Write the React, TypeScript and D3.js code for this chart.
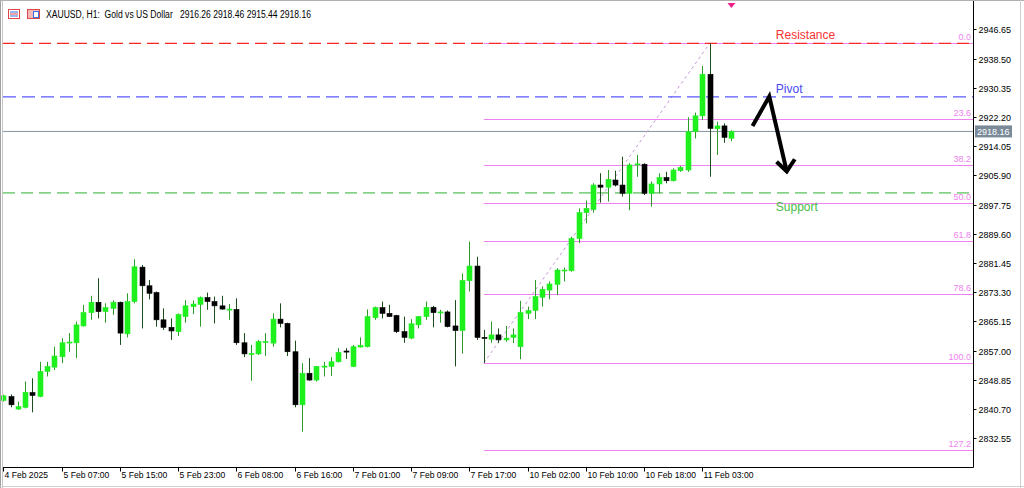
import React from "react";
import * as d3 from "d3";

const W = 1024;
const H = 488;

// OHLC data (H1 bars, XAUUSD)
const opens = [2843.1,2844.2,2840.7,2841.2,2845.3,2844.2,2851.2,2852.4,2855.3,2859.2,2859.2,2863.9,2867.6,2870.5,2867.9,2868.8,2870.5,2861.7,2870.7,2880.3,2875.1,2873.2,2865.6,2863.5,2862.3,2866.5,2869.3,2869.9,2871.8,2870.7,2869.5,2868.5,2868.5,2859.2,2855.9,2856.1,2859.3,2859.1,2865.8,2864.6,2856.7,2841.9,2850.7,2848.8,2852.4,2852.6,2853.9,2856.9,2852.6,2858.0,2858.1,2866.2,2869.0,2867.4,2866.8,2862.3,2860.5,2864.2,2866.5,2869.1,2867.6,2867.8,2863.9,2862.6,2876.5,2880.6,2860.7,2860.2,2861.4,2860.0,2860.7,2858.1,2867.4,2868.2,2871.9,2873.9,2875.5,2879.3,2879.3,2888.3,2895.5,2896.4,2903.2,2902.6,2904.6,2903.2,2900.9,2908.8,2909.0,2900.9,2903.5,2905.3,2904.4,2907.2,2907.4,2918.1,2922.5,2934.1,2918.9,2919.7,2916.26];
const highs = [2844.7,2844.8,2842.8,2848.4,2849.3,2853.9,2853.9,2858.1,2860.5,2861.9,2865.1,2869.8,2872.3,2877.2,2870.2,2871.0,2870.7,2873.0,2882.5,2880.9,2876.7,2873.5,2868.8,2866.0,2867.4,2871.1,2871.0,2872.1,2873.2,2872.1,2872.3,2870.0,2871.6,2861.9,2858.6,2860.0,2861.9,2867.4,2870.2,2864.8,2859.8,2853.5,2854.9,2852.7,2853.9,2855.2,2857.7,2857.7,2858.6,2860.7,2868.5,2869.3,2870.7,2869.8,2867.0,2866.5,2865.8,2866.7,2870.7,2869.5,2868.4,2868.2,2871.1,2878.5,2887.4,2883.2,2862.8,2865.1,2863.2,2863.9,2863.2,2870.9,2869.3,2876.7,2874.9,2876.3,2880.0,2880.2,2888.8,2896.7,2898.9,2903.7,2906.5,2907.4,2907.2,2911.1,2909.3,2911.6,2909.3,2904.2,2906.5,2906.9,2907.9,2908.5,2922.1,2923.4,2936.4,2942.7,2920.9,2920.4,2918.46];
const lows = [2842.8,2841.2,2840.5,2840.9,2839.8,2844.0,2849.8,2851.6,2853.5,2856.7,2854.9,2863.7,2865.6,2866.0,2864.8,2867.0,2858.6,2860.7,2870.2,2863.2,2871.3,2863.7,2862.8,2860.0,2861.1,2864.8,2867.2,2863.7,2868.4,2864.6,2868.4,2865.6,2858.6,2855.2,2848.6,2855.8,2855.5,2858.1,2863.5,2855.5,2841.2,2834.4,2848.6,2848.4,2849.8,2849.9,2853.7,2854.7,2852.4,2857.9,2857.9,2865.6,2866.0,2866.4,2861.9,2859.2,2860.2,2863.2,2865.6,2863.5,2864.8,2863.5,2852.6,2856.2,2873.5,2860.0,2853.6,2859.2,2859.1,2859.5,2859.1,2854.6,2865.8,2865.8,2869.3,2871.3,2872.5,2876.3,2879.0,2887.0,2892.5,2895.5,2898.3,2898.6,2902.8,2900.0,2896.2,2905.5,2900.4,2897.2,2900.9,2903.7,2904.2,2906.9,2906.9,2916.2,2921.4,2905.5,2911.6,2915.0,2915.44];
const closes = [2844.4,2841.9,2841.4,2845.4,2844.5,2851.2,2852.6,2855.5,2859.2,2859.4,2864.2,2867.6,2870.5,2867.9,2869.0,2870.5,2861.9,2870.7,2880.4,2875.1,2873.0,2865.6,2863.5,2862.5,2867.1,2869.5,2870.0,2871.8,2870.7,2869.5,2868.6,2868.6,2859.2,2856.1,2856.2,2859.5,2859.6,2865.8,2864.6,2856.7,2841.9,2850.7,2848.8,2852.6,2852.7,2853.9,2856.5,2856.6,2858.1,2858.5,2866.5,2869.0,2867.4,2866.5,2862.3,2860.7,2864.5,2866.5,2869.1,2867.6,2867.8,2863.7,2862.6,2876.6,2880.6,2860.7,2860.4,2861.4,2860.0,2860.5,2861.4,2867.6,2868.2,2872.1,2874.1,2875.6,2879.5,2879.5,2888.3,2895.5,2896.7,2903.2,2902.6,2904.8,2903.2,2900.9,2908.8,2909.1,2900.9,2903.5,2905.3,2904.4,2907.4,2908.1,2918.1,2922.5,2934.1,2919.0,2919.7,2916.5,2918.16];

const timeTickIdx = [0, 8, 16, 24, 32, 40, 48, 56, 64, 72, 80, 88, 96];
const timeTickLabels = ["4 Feb 2025","5 Feb 07:00","5 Feb 15:00","5 Feb 23:00","6 Feb 08:00","6 Feb 16:00","7 Feb 01:00","7 Feb 09:00","7 Feb 17:00","10 Feb 02:00","10 Feb 10:00","10 Feb 18:00","11 Feb 03:00"];

const priceTickLabels = ["2946.65","2938.50","2930.35","2922.20","2914.05","2905.90","2897.75","2889.60","2881.45","2873.30","2865.15","2857.00","2848.85","2840.70","2832.55"];

const fibLevels = [0, 0.236, 0.382, 0.5, 0.618, 0.786, 1.0, 1.272];
const fibLabels = ["0.0","23.6","38.2","50.0","61.8","78.6","100.0","127.2"];
const fibLowIdx = 66;
const fibHighIdx = 97;
const fibLow = 2853.6;
const fibHigh = 2942.7;

const resistancePrice = 2942.7;
const pivotPrice = 2927.8;
const supportPrice = 2901.0;
const lastPrice = 2918.16;
const labelIdx = 106.1;

// arrow annotation in (bar index, price)
const arrowIdx = [102.9, 105.2, 107.6];
const arrowPrice = [2919.7, 2927.9, 2907.0];
const arrowHeadIdx = [106.2, 107.6, 108.7];
const arrowHeadPrice = [2909.7, 2907.0, 2910.4];

const title = "XAUUSD, H1:  Gold vs US Dollar   2916.26 2918.46 2915.44 2918.16";

const FONT = "'Liberation Sans', Arial, sans-serif";

export default function App() {
  const plotLeft = 3;
  const plotRight = 973.5;
  const axisY = 467.5;

  const x = d3.scaleLinear().domain([0, 96]).range([3.3, 702.3]);
  const y = d3
    .scaleLinear()
    .domain([2832.55, 2946.65])
    .range([438.3, 29.3]);

  const bull = "#1ef01e";
  const bullWick = "#2a9a2a";
  const bearWick = "#1d4d1d";

  const candles = opens.map((o, i) => {
    const c = closes[i];
    const hi = highs[i];
    const lo = lows[i];
    const cx = Math.round(x(i)) + 0.5;
    const up = c >= o;
    const yTop = y(Math.max(o, c));
    const yBot = y(Math.min(o, c));
    const h = Math.max(1, yBot - yTop);
    return (
      <g key={i}>
        <line x1={cx} x2={cx} y1={y(hi)} y2={y(lo)} stroke={up ? bullWick : bearWick} strokeWidth={1} />
        <rect
          x={cx - 2.5}
          y={yTop}
          width={5}
          height={h}
          fill={up ? bull : "#000"}
          stroke={up ? bull : "#000"}
          strokeWidth={0.6}
        />
      </g>
    );
  });

  const fibX1 = x(fibLowIdx);
  const fibRange = fibHigh - fibLow;

  const arrowLine = d3.line<number>()
    .x((_, k) => x(arrowIdx[k]))
    .y((_, k) => y(arrowPrice[k]))(arrowIdx);
  const arrowHead = d3.line<number>()
    .x((_, k) => x(arrowHeadIdx[k]))
    .y((_, k) => y(arrowHeadPrice[k]))(arrowHeadIdx);

  const yLast = y(lastPrice);

  return (
    <svg
      width={W}
      height={H}
      style={{ position: "absolute", left: 0, top: 0, background: "#fff" }}
      fontFamily={FONT}
    >
      <rect x={0} y={0} width={W} height={H} fill="#fff" />

      <line x1={plotLeft} x2={plotRight} y1={yLast} y2={yLast} stroke="#8593a0" strokeWidth={1} />

      {fibLevels.map((lv, k) => {
        const p = fibHigh - lv * fibRange;
        const yy = Math.round(y(p)) + 0.5;
        return (
          <g key={"fib" + k}>
            <line x1={fibX1} x2={plotRight} y1={yy} y2={yy} stroke="#ee82ee" strokeWidth={1} />
            <text x={971} y={yy - 4} textAnchor="end" fontSize={9} fill="#ee82ee">
              {fibLabels[k]}
            </text>
          </g>
        );
      })}
      <line
        x1={x(fibLowIdx)}
        y1={y(fibLow)}
        x2={x(fibHighIdx)}
        y2={y(fibHigh)}
        stroke="#c79bd9"
        strokeWidth={1}
        strokeDasharray="3,3"
      />

      <line x1={plotLeft} x2={plotRight} y1={y(resistancePrice)} y2={y(resistancePrice)} stroke="#ff2626" strokeWidth={1.3} strokeDasharray="12,6" />
      <line x1={plotLeft} x2={plotRight} y1={y(pivotPrice)} y2={y(pivotPrice)} stroke="#5a5aff" strokeWidth={1.3} strokeDasharray="13,6" />
      <line x1={plotLeft} x2={plotRight} y1={y(supportPrice)} y2={y(supportPrice)} stroke="#2fb02f" strokeWidth={1} strokeDasharray="12,6" />

      {candles}

      <text x={x(labelIdx)} y={y(resistancePrice) - 4.5} fontSize={12} fill="#f53333">Resistance</text>
      <text x={x(labelIdx)} y={y(pivotPrice) - 3.5} fontSize={12} fill="#4848f0">Pivot</text>
      <text x={x(labelIdx)} y={y(supportPrice) + 18.5} fontSize={12} fill="#44c044">Support</text>

      <path d={arrowLine || ""} fill="none" stroke="#000" strokeWidth={4} strokeLinejoin="miter" strokeLinecap="butt" />
      <path d={arrowHead || ""} fill="none" stroke="#000" strokeWidth={4} strokeLinejoin="miter" strokeLinecap="butt" />

      <path
        d={`M${x(100) - 4},3 L${x(100) + 4},3 L${x(100)},8 Z`}
        fill="#f0208a"
      />

      <line x1={plotRight} x2={plotRight} y1={0} y2={axisY} stroke="#000" strokeWidth={1} />
      <line x1={plotLeft} x2={plotRight} y1={axisY} y2={axisY} stroke="#000" strokeWidth={1} />
      {priceTickLabels.map((lab, k) => {
        const yy = Math.round(y(+lab)) + 0.5;
        return (
          <g key={"pt" + k}>
            <line x1={plotRight} x2={plotRight + 3} y1={yy} y2={yy} stroke="#000" />
            <text x={978.5} y={yy + 3.5} fontSize={9} fill="#000">{lab}</text>
          </g>
        );
      })}
      <rect x={975} y={yLast - 6} width={37} height={12} fill="#7a8a99" />
      <text x={977} y={yLast + 3.5} fontSize={9} fill="#fff">{lastPrice.toFixed(2)}</text>

      {timeTickIdx.map((idx, k) => {
        const xx = Math.round(x(idx)) + 0.5;
        return (
          <g key={"tt" + k}>
            <line x1={xx} x2={xx} y1={axisY} y2={axisY + 4} stroke="#000" />
            <text x={xx + 1} y={478} fontSize={8.6} fill="#000">{timeTickLabels[k]}</text>
          </g>
        );
      })}

      <g>
        <rect x={8.5} y={9.5} width={11} height={9} fill="#fff" stroke="#e04848" />
        <line x1={10} x2={18} y1={12} y2={12} stroke="#3a6fe0" />
        <line x1={10} x2={18} y1={14} y2={14} stroke="#e04848" />
        <line x1={10} x2={18} y1={16} y2={16} stroke="#3a6fe0" />
        <rect x={27.5} y={9.5} width={12} height={9} fill="#f3b8b8" stroke="#e04848" />
        <rect x={33.5} y={11.5} width={5} height={6} fill="#fff" stroke="#3a6fe0" />
        <text
          x={46}
          y={17.5}
          fontSize={10}
          fill="#000"
          textLength={265}
          lengthAdjust="spacingAndGlyphs"
          style={{ whiteSpace: "pre" }}
        >
          {title}
        </text>
      </g>

      <line x1={0.5} x2={0.5} y1={0} y2={H} stroke="#a0a0a0" />
      <line x1={2.5} x2={2.5} y1={0} y2={H} stroke="#c8c8c8" />
      <line x1={0} x2={W} y1={0.5} y2={0.5} stroke="#b0b0b0" />
      <line x1={0} x2={W} y1={486.5} y2={486.5} stroke="#d0d0d0" />
      <line x1={1020.5} x2={1020.5} y1={0} y2={H} stroke="#d0d0d0" />
    </svg>
  );
}
